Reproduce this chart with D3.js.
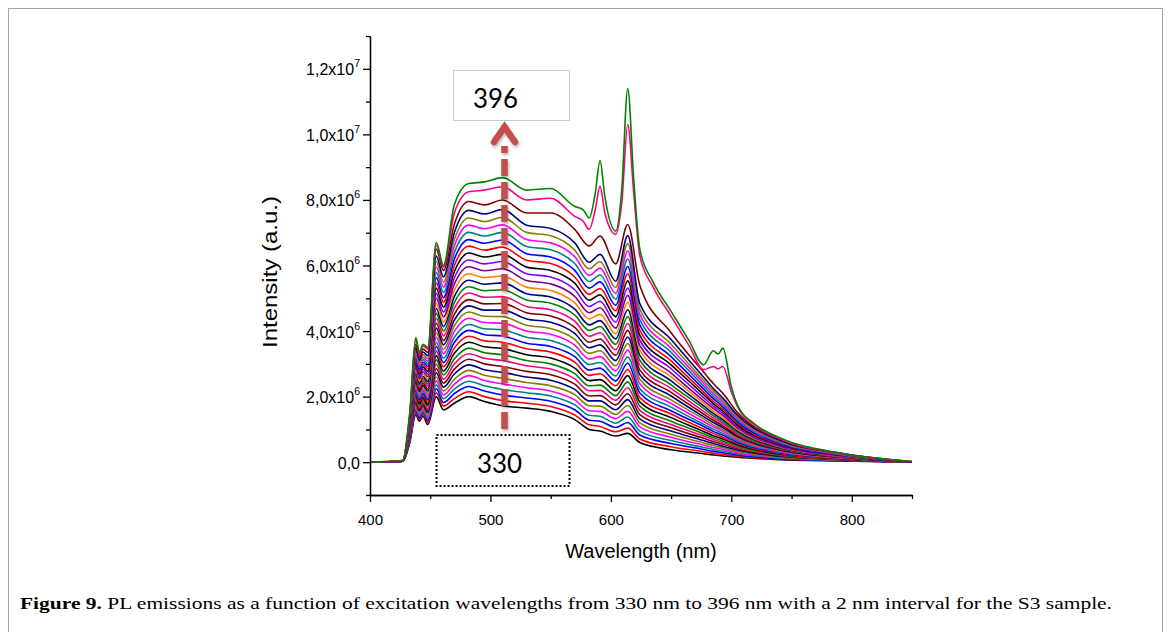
<!DOCTYPE html>
<html>
<head>
<meta charset="utf-8">
<script src="https://cdn.jsdelivr.net/npm/d3@7"></script>
<style>
  body { margin: 0; background: #fff; }
</style>
</head>
<body>
<svg id="chart" width="1171" height="632" font-family="Liberation Sans, Arial, sans-serif"></svg>
<script>
// excitation wavelength of each curve (nm), bottom curve first
var excitation = [330, 332, 334, 336, 338, 340, 342, 344, 346, 348, 350, 352, 354, 356, 358, 360, 362,
    364, 366, 368, 370, 372, 374, 376, 378, 380, 382, 384, 386, 388, 390, 392, 394, 396];

// emission wavelengths (nm) at which the curves were read
var wavelengths = [400, 427, 433, 438, 441, 444, 448, 455, 461, 470, 482, 495, 510, 530, 550, 570, 582, 591,
    604, 614, 624, 650, 677, 685, 693, 705, 740, 790, 850];
// the 394 and 396 curves have sharp Eu peaks, so they were read on a finer grid
var wavelengthsTop = [400, 427, 433, 438, 441, 444, 448, 455, 461, 470, 482, 495, 510, 530, 550, 570, 577, 582,
    587, 591, 595, 604, 609, 614, 619, 624, 635, 650, 665, 677, 685, 689, 693, 700, 705, 720, 740, 790, 850];

// intensity in units of 1e6, excitation 330 ... 392 nm
var emission = [
    [0, 0.03, 0.6, 1.45, 1.25, 1.4, 1.15, 2.0, 1.6, 1.8, 2.0, 1.85, 1.72, 1.65, 1.55, 1.3, 1.0, 0.95, 0.8, 0.88, 0.6, 0.38, 0.26, 0.22, 0.19, 0.15, 0.08, 0.04, 0],
    [0, 0.03, 0.62, 1.51, 1.30, 1.45, 1.21, 2.12, 1.71, 1.94, 2.15, 2.0, 1.88, 1.80, 1.70, 1.44, 1.14, 1.09, 0.93, 1.04, 0.71, 0.47, 0.32, 0.27, 0.24, 0.18, 0.10, 0.05, 0],
    [0, 0.03, 0.64, 1.56, 1.35, 1.51, 1.27, 2.24, 1.82, 2.09, 2.31, 2.17, 2.05, 1.96, 1.86, 1.60, 1.28, 1.25, 1.06, 1.21, 0.83, 0.57, 0.39, 0.33, 0.29, 0.22, 0.11, 0.05, 0],
    [0, 0.03, 0.66, 1.62, 1.41, 1.56, 1.33, 2.36, 1.94, 2.23, 2.47, 2.33, 2.22, 2.12, 2.02, 1.75, 1.43, 1.40, 1.19, 1.38, 0.95, 0.66, 0.45, 0.39, 0.34, 0.26, 0.13, 0.06, 0],
    [0, 0.03, 0.69, 1.68, 1.46, 1.62, 1.39, 2.48, 2.05, 2.38, 2.64, 2.49, 2.39, 2.27, 2.17, 1.90, 1.57, 1.55, 1.33, 1.55, 1.08, 0.76, 0.52, 0.45, 0.39, 0.29, 0.15, 0.07, 0],
    [0, 0.03, 0.71, 1.74, 1.51, 1.67, 1.44, 2.60, 2.17, 2.53, 2.80, 2.65, 2.56, 2.43, 2.33, 2.06, 1.72, 1.71, 1.46, 1.73, 1.20, 0.85, 0.59, 0.51, 0.44, 0.33, 0.16, 0.07, 0],
    [0, 0.03, 0.73, 1.80, 1.57, 1.73, 1.51, 2.73, 2.29, 2.69, 2.97, 2.82, 2.74, 2.60, 2.50, 2.22, 1.87, 1.87, 1.60, 1.91, 1.32, 0.95, 0.66, 0.57, 0.49, 0.37, 0.18, 0.08, 0],
    [0, 0.03, 0.75, 1.86, 1.62, 1.79, 1.57, 2.86, 2.41, 2.84, 3.14, 3.00, 2.92, 2.77, 2.67, 2.38, 2.02, 2.03, 1.75, 2.09, 1.45, 1.05, 0.73, 0.63, 0.55, 0.41, 0.20, 0.09, 0],
    [0, 0.03, 0.78, 1.92, 1.68, 1.85, 1.63, 2.99, 2.53, 3.00, 3.31, 3.17, 3.10, 2.94, 2.84, 2.54, 2.18, 2.19, 1.89, 2.27, 1.58, 1.15, 0.80, 0.69, 0.60, 0.45, 0.22, 0.09, 0],
    [0, 0.03, 0.80, 1.98, 1.73, 1.91, 1.70, 3.12, 2.66, 3.15, 3.48, 3.34, 3.28, 3.10, 3.00, 2.70, 2.33, 2.35, 2.03, 2.45, 1.71, 1.25, 0.87, 0.75, 0.65, 0.49, 0.23, 0.10, 0],
    [0, 0.03, 0.82, 2.05, 1.79, 1.97, 1.76, 3.25, 2.78, 3.32, 3.66, 3.52, 3.47, 3.28, 3.18, 2.87, 2.49, 2.52, 2.18, 2.64, 1.84, 1.36, 0.94, 0.81, 0.71, 0.53, 0.25, 0.11, 0],
    [0, 0.03, 0.85, 2.11, 1.85, 2.03, 1.83, 3.39, 2.91, 3.48, 3.84, 3.70, 3.66, 3.46, 3.36, 3.05, 2.65, 2.70, 2.33, 2.83, 1.97, 1.47, 1.01, 0.88, 0.76, 0.57, 0.27, 0.11, 0],
    [0, 0.03, 0.87, 2.18, 1.91, 2.10, 1.90, 3.53, 3.04, 3.65, 4.02, 3.89, 3.85, 3.63, 3.53, 3.22, 2.81, 2.87, 2.48, 3.02, 2.11, 1.57, 1.09, 0.94, 0.82, 0.61, 0.29, 0.12, 0],
    [0, 0.03, 0.90, 2.24, 1.97, 2.16, 1.96, 3.66, 3.17, 3.81, 4.20, 4.07, 4.04, 3.81, 3.71, 3.39, 2.98, 3.04, 2.63, 3.21, 2.24, 1.68, 1.16, 1.01, 0.88, 0.65, 0.31, 0.13, 0],
    [0, 0.03, 0.92, 2.31, 2.03, 2.22, 2.03, 3.81, 3.31, 3.99, 4.39, 4.26, 4.24, 4.00, 3.90, 3.57, 3.15, 3.22, 2.79, 3.42, 2.39, 1.79, 1.24, 1.08, 0.94, 0.69, 0.33, 0.14, 0],
    [0, 0.03, 0.95, 2.38, 2.09, 2.29, 2.10, 3.95, 3.44, 4.16, 4.58, 4.45, 4.44, 4.18, 4.08, 3.75, 3.32, 3.40, 2.94, 3.62, 2.53, 1.90, 1.32, 1.14, 1.00, 0.73, 0.35, 0.14, 0],
    [0, 0.03, 0.97, 2.45, 2.16, 2.35, 2.17, 4.09, 3.58, 4.33, 4.77, 4.64, 4.64, 4.37, 4.27, 3.93, 3.49, 3.58, 3.10, 3.82, 2.67, 2.02, 1.39, 1.21, 1.06, 0.78, 0.37, 0.15, 0],
    [0, 0.03, 1.00, 2.52, 2.22, 2.42, 2.24, 4.24, 3.71, 4.51, 4.96, 4.83, 4.84, 4.56, 4.46, 4.11, 3.66, 3.76, 3.26, 4.02, 2.81, 2.13, 1.47, 1.28, 1.11, 0.82, 0.39, 0.16, 0],
    [0, 0.03, 1.02, 2.59, 2.28, 2.49, 2.32, 4.39, 3.85, 4.69, 5.16, 5.03, 5.05, 4.75, 4.65, 4.30, 3.84, 3.95, 3.43, 4.23, 2.96, 2.25, 1.55, 1.35, 1.18, 0.87, 0.41, 0.17, 0],
    [0, 0.03, 1.05, 2.66, 2.35, 2.56, 2.39, 4.54, 4.00, 4.87, 5.35, 5.23, 5.26, 4.95, 4.85, 4.49, 4.02, 4.14, 3.59, 4.44, 3.11, 2.36, 1.64, 1.42, 1.24, 0.91, 0.43, 0.18, 0],
    [0, 0.03, 1.08, 2.73, 2.41, 2.62, 2.46, 4.69, 4.14, 5.05, 5.55, 5.43, 5.47, 5.14, 5.04, 4.67, 4.19, 4.32, 3.76, 4.65, 3.26, 2.48, 1.72, 1.49, 1.30, 0.96, 0.45, 0.18, 0],
    [0, 0.03, 1.10, 2.81, 2.48, 2.69, 2.54, 4.84, 4.28, 5.24, 5.75, 5.63, 5.68, 5.34, 5.24, 4.86, 4.37, 4.51, 3.92, 4.87, 3.41, 2.60, 1.80, 1.56, 1.36, 1.00, 0.47, 0.19, 0],
    [0, 0.03, 1.13, 2.88, 2.55, 2.76, 2.61, 5.00, 4.43, 5.43, 5.96, 5.84, 5.90, 5.54, 5.44, 5.06, 4.56, 4.71, 4.09, 5.09, 3.56, 2.72, 1.88, 1.64, 1.43, 1.05, 0.49, 0.20, 0],
    [0, 0.03, 1.16, 2.96, 2.62, 2.84, 2.69, 5.15, 4.58, 5.62, 6.17, 6.05, 6.12, 5.75, 5.65, 5.26, 4.75, 4.91, 4.27, 5.31, 3.72, 2.85, 1.97, 1.71, 1.49, 1.10, 0.51, 0.21, 0],
    [0, 0.03, 1.19, 3.03, 2.69, 2.91, 2.77, 5.31, 4.73, 5.81, 6.38, 6.26, 6.34, 5.95, 5.85, 5.46, 4.94, 5.11, 4.44, 5.53, 3.87, 2.97, 2.06, 1.79, 1.56, 1.14, 0.54, 0.22, 0],
    [0, 0.03, 1.22, 3.11, 2.75, 2.98, 2.85, 5.47, 4.88, 6.00, 6.59, 6.47, 6.56, 6.16, 6.06, 5.65, 5.12, 5.30, 4.62, 5.75, 4.03, 3.09, 2.14, 1.86, 1.62, 1.19, 0.56, 0.23, 0],
    [0, 0.03, 1.25, 3.18, 2.82, 3.05, 2.92, 5.63, 5.02, 6.19, 6.79, 6.68, 6.78, 6.36, 6.26, 5.85, 5.31, 5.50, 4.79, 5.97, 4.19, 3.22, 2.23, 1.94, 1.69, 1.24, 0.58, 0.23, 0],
    [0, 0.03, 1.27, 3.26, 2.89, 3.13, 3.00, 5.79, 5.18, 6.39, 7.01, 6.90, 7.01, 6.58, 6.48, 6.06, 5.51, 5.71, 4.97, 6.20, 4.35, 3.35, 2.32, 2.01, 1.76, 1.29, 0.60, 0.24, 0],
    [0, 0.03, 1.30, 3.34, 2.96, 3.20, 3.08, 5.96, 5.34, 6.59, 7.23, 7.12, 7.24, 6.79, 6.69, 6.27, 5.70, 5.92, 5.15, 6.44, 4.51, 3.47, 2.41, 2.09, 1.83, 1.34, 0.63, 0.25, 0],
    [0, 0.03, 1.33, 3.42, 3.04, 3.28, 3.16, 6.12, 5.49, 6.79, 7.45, 7.34, 7.47, 7.01, 6.91, 6.47, 5.90, 6.12, 5.33, 6.67, 4.67, 3.60, 2.49, 2.17, 1.89, 1.39, 0.65, 0.26, 0],
    [0, 0.03, 1.36, 3.50, 3.11, 3.36, 3.25, 6.29, 5.65, 7.00, 7.68, 7.57, 7.71, 7.23, 7.13, 6.69, 6.10, 6.34, 5.52, 6.91, 4.84, 3.74, 2.59, 2.25, 1.96, 1.44, 0.67, 0.27, 0],
    [0, 0.05, 1.40, 3.60, 3.20, 3.45, 3.35, 6.50, 5.85, 7.25, 7.95, 7.85, 8.00, 7.60, 7.60, 7.10, 6.60, 6.90, 6.05, 7.25, 5.40, 3.95, 2.75, 2.40, 2.10, 1.52, 0.71, 0.28, 0.02]
];
var emission394 = [0, 0.05, 1.48, 3.75, 3.3, 3.55, 3.45, 6.62, 5.95, 7.6, 8.25, 8.3, 8.4, 8.0, 8.05, 7.5, 7.35, 7.1,
    7.7, 8.42, 7.6, 6.95, 7.9, 10.3, 8.2, 6.3, 5.35, 4.45, 3.55, 2.82, 2.92, 2.85, 2.92, 2.15, 1.7, 1.12, 0.72, 0.27, 0.02];
var emission396 = [0, 0.05, 1.5, 3.8, 3.35, 3.6, 3.5, 6.7, 6.0, 7.85, 8.5, 8.55, 8.68, 8.3, 8.35, 7.8, 7.7, 7.45,
    8.2, 9.2, 8.1, 7.05, 8.3, 11.4, 8.6, 6.5, 5.5, 4.6, 3.7, 2.97, 3.4, 3.3, 3.48, 2.3, 1.75, 1.15, 0.75, 0.28, 0.02];

// axis ticks
var xTicks = [400, 500, 600, 700, 800];
var xMinorTicks = [450, 550, 650, 750, 850];
var yTicks = [0, 2e6, 4e6, 6e6, 8e6, 1e7, 1.2e7];
var yMinorTicks = [-1e6, 1e6, 3e6, 5e6, 7e6, 9e6, 1.1e7, 1.3e7];
var yTickMantissa = ["0,0", "2,0x10", "4,0x10", "6,0x10", "8,0x10", "1,0x10", "1,2x10"];
var yTickExponent = ["", "6", "6", "6", "6", "7", "7"];

// Origin line colours, bottom curve first
var cycle = ["#000000", "#ff0000", "#0000ff", "#008080", "#ff00ff", "#808000", "#000080", "#800000", "#ff0080", "#008000"];
var extra = ["#000080", "#ff8000", "#800080", "#8000ff"];
var lineColors = cycle.concat(cycle, extra, cycle);

var svg = d3.select("#chart");

// figure frame
svg.append("rect")
    .attr("x", 8.5).attr("y", 8.5)
    .attr("width", 1154).attr("height", 700)
    .attr("fill", "none")
    .attr("stroke", "#a6a6a6")
    .attr("stroke-width", 1);

var x = d3.scaleLinear().domain([400, 850]).range([370, 912]);
var y = d3.scaleLinear().domain([-1e6, 1.3e7]).range([495, 36]);

var line = d3.line()
    .x(d => x(d[0]))
    .y(d => y(d[1] * 1e6))
    .curve(d3.curveMonotoneX);

// build series
var series = emission.map((row, i) => ({
    ex: excitation[i],
    pts: wavelengths.map((w, j) => [w, row[j]])
}));
series.push({ ex: 394, pts: wavelengthsTop.map((w, j) => [w, emission394[j]]) });
series.push({ ex: 396, pts: wavelengthsTop.map((w, j) => [w, emission396[j]]) });

svg.append("g")
    .selectAll("path")
    .data(series)
    .enter()
    .append("path")
    .attr("d", d => line(d.pts))
    .attr("fill", "none")
    .attr("stroke", (d, i) => lineColors[i])
    .attr("stroke-width", 1.6)
    .attr("stroke-linejoin", "round");

// axes
var xAxisG = svg.append("g").attr("transform", "translate(0,495)");
xAxisG.call(d3.axisBottom(x).tickValues(xMinorTicks).tickSize(4).tickSizeOuter(0).tickFormat(""));
xAxisG.append("g").call(d3.axisBottom(x).tickValues(xTicks).tickSize(7).tickSizeOuter(0).tickPadding(12));
xAxisG.selectAll("g").attr("font-family", null).attr("font-size", null);
xAxisG.attr("font-family", null).attr("font-size", null);
xAxisG.selectAll("text")
    .style("font-family", "Liberation Sans, Arial, sans-serif")
    .style("font-size", "15px")
    .attr("fill", "#000");

var yAxisG = svg.append("g").attr("transform", "translate(370,0)");
yAxisG.call(d3.axisLeft(y).tickValues(yMinorTicks).tickSize(4).tickSizeOuter(0).tickFormat(""));
var yMajor = yAxisG.append("g").call(d3.axisLeft(y).tickValues(yTicks).tickSize(7).tickSizeOuter(0).tickFormat(""));
yMajor.selectAll(".tick").each(function(d, i) {
    var t = d3.select(this).append("text")
        .attr("x", -10)
        .attr("y", 6)
        .attr("text-anchor", "end")
        .attr("fill", "#000")
        .style("font-family", "Liberation Sans, Arial, sans-serif")
        .style("font-size", "16px")
        .text(yTickMantissa[i]);
    if (yTickExponent[i]) {
        t.append("tspan")
            .attr("dy", -8)
            .style("font-size", "10.5px")
            .text(yTickExponent[i]);
    }
});

svg.selectAll(".domain").attr("stroke-width", 1.3);
svg.selectAll(".tick line").attr("stroke-width", 1.3);

// axis titles
svg.append("text")
    .attr("transform", "translate(277,272) rotate(-90)")
    .attr("text-anchor", "middle")
    .style("font-size", "20px")
    .attr("textLength", 152)
    .attr("lengthAdjust", "spacingAndGlyphs")
    .text("Intensity (a.u.)");

svg.append("text")
    .attr("x", 641)
    .attr("y", 558)
    .attr("text-anchor", "middle")
    .style("font-size", "20px")
    .text("Wavelength (nm)");

// annotation boxes
svg.append("rect")
    .attr("x", 453.5).attr("y", 70.5)
    .attr("width", 116).attr("height", 50)
    .attr("fill", "#fff")
    .attr("stroke", "#9a9a9a")
    .attr("stroke-width", 1)
    .attr("stroke-dasharray", "1,1");
svg.append("text")
    .attr("x", 473).attr("y", 108)
    .style("font-family", "Lato, 'Open Sans', sans-serif")
    .style("font-size", "27px")
    .attr("textLength", 45)
    .attr("lengthAdjust", "spacingAndGlyphs")
    .text(excitation[excitation.length - 1]);

svg.append("rect")
    .attr("x", 436.5).attr("y", 435)
    .attr("width", 133).attr("height", 51)
    .attr("fill", "#fff")
    .attr("stroke", "#000")
    .attr("stroke-width", 2)
    .attr("stroke-dasharray", "2,2");
svg.append("text")
    .attr("x", 477).attr("y", 473)
    .style("font-family", "Lato, 'Open Sans', sans-serif")
    .style("font-size", "27px")
    .attr("textLength", 45)
    .attr("lengthAdjust", "spacingAndGlyphs")
    .text(excitation[0]);

// arrow from 330 to 396
var defs = svg.append("defs");
var f = defs.append("filter").attr("id", "shadow").attr("x", "-50%").attr("y", "-10%").attr("width", "200%").attr("height", "120%");
f.append("feDropShadow").attr("dx", 1).attr("dy", 2).attr("stdDeviation", 1.5).attr("flood-color", "#000").attr("flood-opacity", 0.3);

var arrow = svg.append("g").attr("filter", "url(#shadow)");
arrow.append("line")
    .attr("x1", 504.5).attr("y1", 429)
    .attr("x2", 504.5).attr("y2", 146)
    .attr("stroke", "#c0504d")
    .attr("stroke-width", 6.5)
    .attr("stroke-dasharray", "17,6");
arrow.append("polyline")
    .attr("points", "494,142 504.5,127 515,142")
    .attr("fill", "none")
    .attr("stroke", "#c0504d")
    .attr("stroke-width", 6.5)
    .attr("stroke-linejoin", "miter")
    .attr("stroke-linecap", "round");

// caption
var cap = svg.append("text")
    .attr("x", 20).attr("y", 609)
    .style("font-family", "'Liberation Serif', 'Times New Roman', serif")
    .style("font-size", "17.5px")
    .attr("textLength", 1092)
    .attr("lengthAdjust", "spacingAndGlyphs");
cap.append("tspan").style("font-weight", "bold").text("Figure 9.");
cap.append("tspan").text(" PL emissions as a function of excitation wavelengths from 330 nm to 396 nm with a 2 nm interval for the S3 sample.");
</script>
</body>
</html>
